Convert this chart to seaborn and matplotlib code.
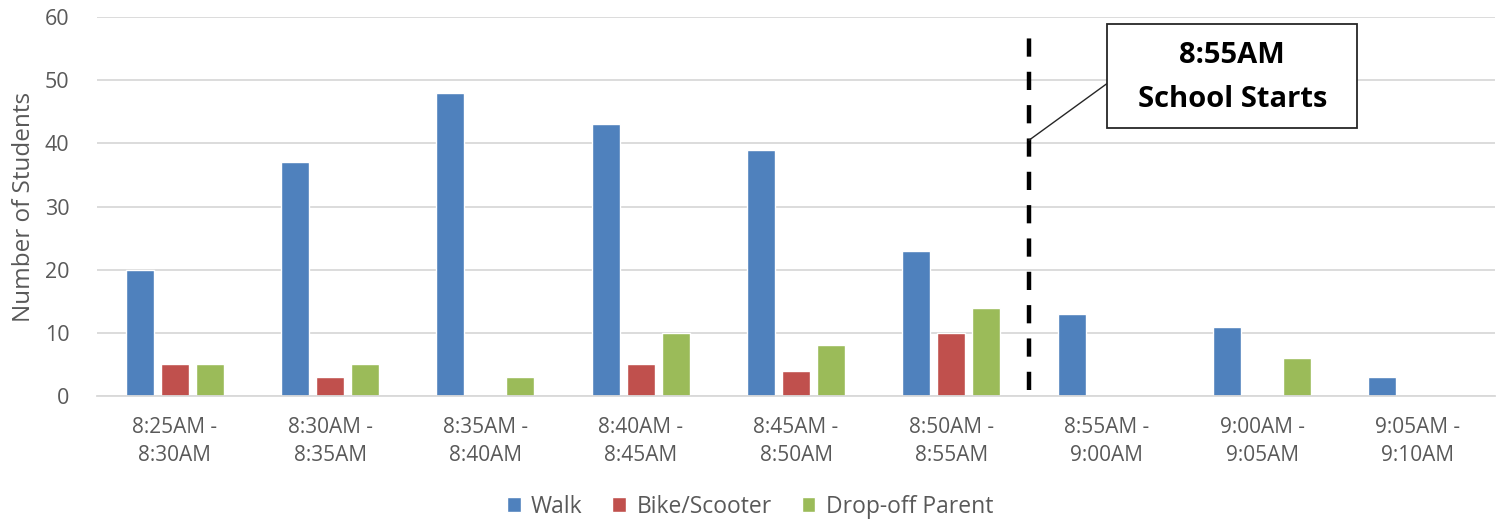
import matplotlib
matplotlib.use("Agg")
import matplotlib.pyplot as plt
from matplotlib.patches import Rectangle
import seaborn as sns
import pandas as pd

categories = ["8:25AM -\n8:30AM", "8:30AM -\n8:35AM", "8:35AM -\n8:40AM",
              "8:40AM -\n8:45AM", "8:45AM -\n8:50AM", "8:50AM -\n8:55AM",
              "8:55AM -\n9:00AM", "9:00AM -\n9:05AM", "9:05AM -\n9:10AM"]
walk = [20, 37, 48, 43, 39, 23, 13, 11, 3]
bike = [5, 3, 0, 5, 4, 10, 0, 0, 0]
dropoff = [5, 5, 3, 10, 8, 14, 0, 6, 0]
series_names = ["Walk", "Bike/Scooter", "Drop-off Parent"]
colors = ["#4F81BD", "#C0504D", "#9BBB59"]

rows = []
for name, vals in zip(series_names, [walk, bike, dropoff]):
    for c, v in zip(categories, vals):
        rows.append({"Time": c, "Mode": name, "Count": v})
df = pd.DataFrame(rows)

sns.set_theme(style="white")
plt.rcParams["font.family"] = ["Open Sans", "DejaVu Sans"]
text_color = "#595959"

fig = plt.figure(figsize=(15, 5.23), dpi=100)
ax = fig.add_axes([0.0647, 0.2428, 0.9320, 0.7247])

sns.barplot(data=df, x="Time", y="Count", hue="Mode", order=categories,
            hue_order=series_names, palette=colors, width=0.675, gap=0.2,
            saturation=1, ax=ax, legend=True)

ax.set_ylim(0, 60)
ax.set_xlim(-0.5, len(categories) - 0.5)
ax.set_yticks(range(0, 61, 10))
ax.yaxis.grid(True, color="#D9D9D9", linewidth=1.3)
ax.set_axisbelow(True)
for s in ["top", "right", "left"]:
    ax.spines[s].set_visible(False)
ax.spines["bottom"].set_color("#D9D9D9")
ax.spines["bottom"].set_linewidth(1.3)
ax.tick_params(axis="both", length=0, labelcolor=text_color)
ax.tick_params(axis="x", pad=15, labelsize=15)
ax.tick_params(axis="y", pad=20, labelsize=15.5)
for lab in ax.get_xticklabels():
    lab.set_linespacing(1.45)
ax.set_xlabel("")
ax.set_ylabel("Number of Students", fontsize=17.5, color=text_color, labelpad=6)

# school start line
ax.plot([5.5, 5.5], [1, 58.7], color="black", linewidth=3.2,
        linestyle=(0, (4.1, 3.4)), solid_capstyle="butt")
# callout box
bx0, bx1, by0, by1 = 6.004, 7.613, 42.4, 58.9
ax.add_patch(Rectangle((bx0, by0), bx1 - bx0, by1 - by0, facecolor="white",
                       edgecolor="#262626", linewidth=1.3, zorder=5))
ax.plot([5.5, bx0], [40.5, 49.5], color="#262626", linewidth=1.0, zorder=4)
ax.text((bx0 + bx1) / 2, 53.9, "8:55AM", ha="center", va="center",
        fontsize=21, fontweight="bold", color="black", zorder=6)
ax.text((bx0 + bx1) / 2, 46.9, "School Starts", ha="center", va="center",
        fontsize=21, fontweight="bold", color="black", zorder=6)

handles, labels = ax.get_legend_handles_labels()
ax.get_legend().remove()
fig.legend(handles, labels, loc="center", bbox_to_anchor=(0.5, 0.031), ncol=3,
           frameon=False, fontsize=16.5, handlelength=0.6, handleheight=0.6,
           handletextpad=0.45, columnspacing=1.3, labelcolor=text_color)

fig.savefig("out.png", dpi=100)
